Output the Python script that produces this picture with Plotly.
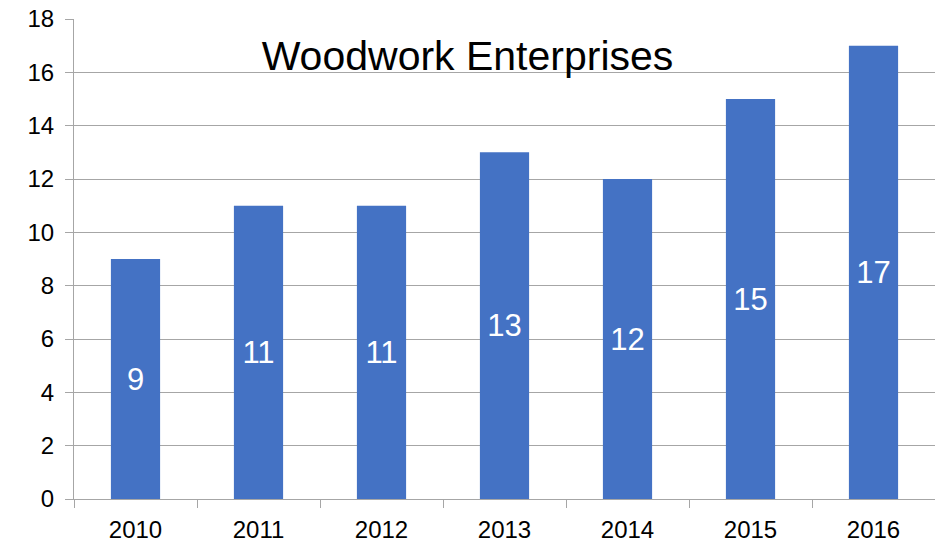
import plotly.graph_objects as go

# Annual figures for Woodwork Enterprises
years = ["2010", "2011", "2012", "2013", "2014", "2015", "2016"]
values = [9, 11, 11, 13, 12, 15, 17]
y_ticks = [0, 2, 4, 6, 8, 10, 12, 14, 16, 18]

FONT = "Liberation Sans, Arial, sans-serif"
GRID = "#A6A6A6"

fig = go.Figure(
    go.Bar(
        x=years,
        y=values,
        marker=dict(color="#4472C4", line=dict(width=0)),
        text=[str(v) for v in values],
        textposition="inside",
        insidetextanchor="middle",
        textangle=0,
        textfont=dict(family=FONT, size=31, color="white"),
        cliponaxis=False,
    )
)

fig.update_layout(
    width=935,
    height=546,
    margin=dict(l=74, r=0, t=19, b=47),
    paper_bgcolor="white",
    plot_bgcolor="white",
    bargap=0.6,
    showlegend=False,
    uniformtext=dict(mode=False),
    title=dict(
        text="Woodwork Enterprises",
        font=dict(family=FONT, size=41, color="black"),
        xref="container",
        x=0.5,
        xanchor="center",
        yref="container",
        y=1 - 56 / 546,
        yanchor="middle",
    ),
)

fig.update_xaxes(
    type="category",
    showgrid=False,
    showline=True,
    linecolor=GRID,
    linewidth=1,
    ticks="outside",
    tickson="boundaries",
    ticklen=8,
    tickcolor=GRID,
    tickfont=dict(family=FONT, size=24, color="black"),
    ticklabelstandoff=9,
    fixedrange=True,
)

fig.update_yaxes(
    range=[0, 18],
    tickvals=y_ticks,
    showgrid=True,
    gridcolor=GRID,
    gridwidth=1,
    zeroline=False,
    showline=True,
    linecolor=GRID,
    linewidth=1,
    ticks="outside",
    ticklen=8,
    tickcolor=GRID,
    tickfont=dict(family=FONT, size=24, color="black"),
    ticklabelstandoff=6,
    fixedrange=True,
)

fig.write_html("out.html")
